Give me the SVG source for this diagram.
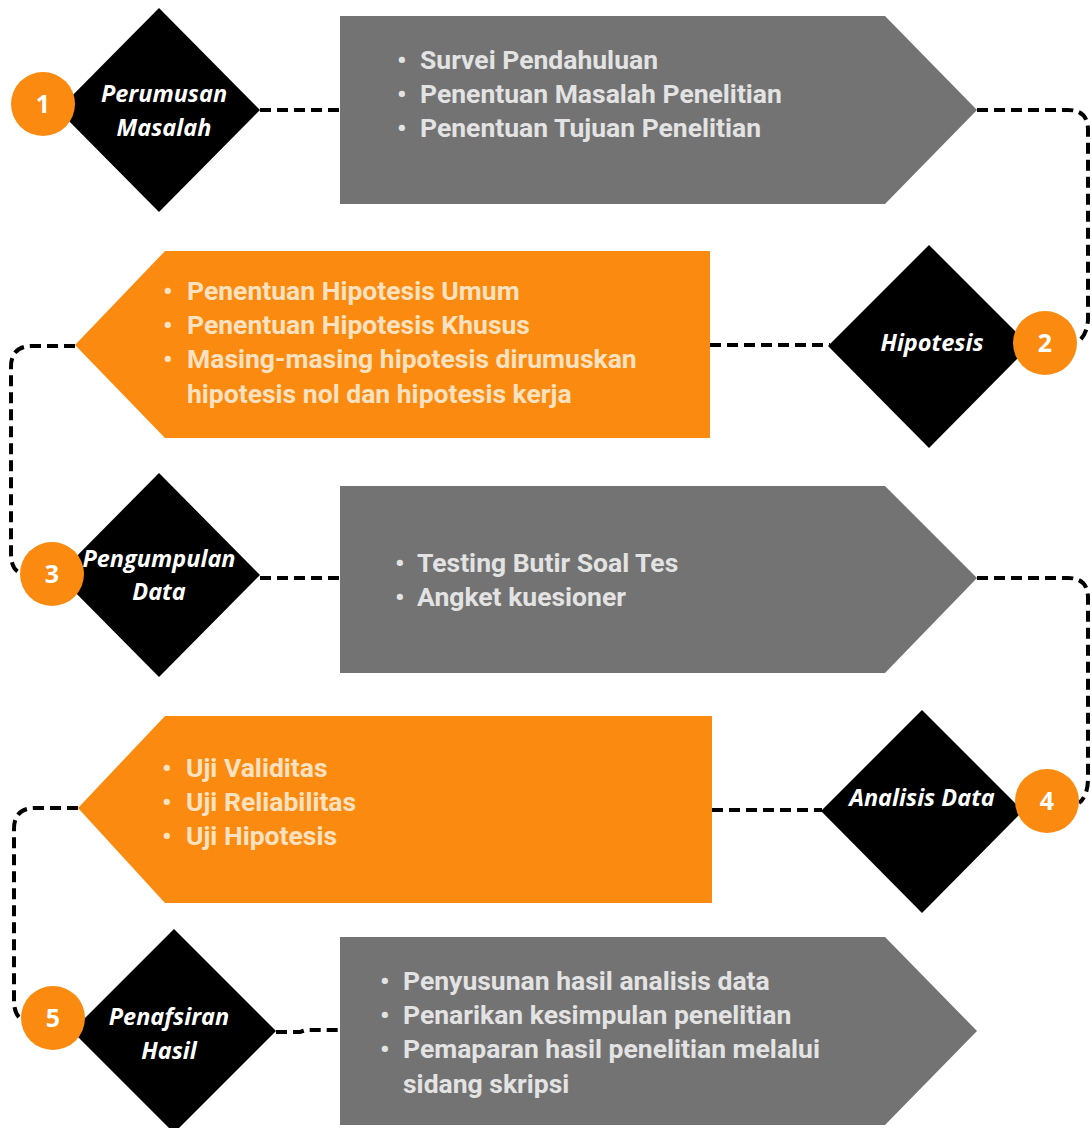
<svg xmlns="http://www.w3.org/2000/svg" width="1092" height="1128" viewBox="0 0 1092 1128">
<style>
.conn{fill:none;stroke:#000;stroke-width:4;stroke-dasharray:11 6}
.gray{fill:#737373}
.orange{fill:#fb8b10}
.dia{fill:#000}
.circ{fill:#fb8b10}
.num{font-family:"Open Sans","Liberation Sans",sans-serif;font-weight:700;font-size:25px;fill:#fff;text-anchor:middle}
.lbl{font-family:"Open Sans","Liberation Sans",sans-serif;font-weight:700;font-style:italic;font-size:23.5px;fill:#fff;text-anchor:middle}
.tg{font-family:Roboto,"Liberation Sans",sans-serif;font-weight:700;font-size:26.5px;fill:#e3e3e3}
.to{font-family:Roboto,"Liberation Sans",sans-serif;font-weight:700;font-size:26.5px;fill:#fde2c2}
</style>
<rect width="1092" height="1128" fill="#fff"/>
<g id="connectors">
<path class="conn" d="M260,110 H340"/>
<path class="conn" d="M977,110 H1068 Q1088,110 1088,130 V318 Q1088,334 1077,343"/>
<path class="conn" d="M710,345 H830"/>
<path class="conn" d="M75,346 H32 Q11,346 11,367 V553 Q11,570 21,573"/>
<path class="conn" d="M260,578 H340"/>
<path class="conn" d="M977,578 H1068 Q1088,578 1088,598 V778 Q1088,796 1079,803"/>
<path class="conn" d="M712,810 H822"/>
<path class="conn" d="M78,808 H35 Q14,808 14,829 V1000 Q14,1016 23,1020"/>
<path class="conn" d="M276,1032 H300 L306,1030 H340"/>
</g>
<g id="box1">
<polygon class="gray" points="340,16 885,16 977,110 885,204 340,204"/>
<text class="tg" x="397" y="69">•</text><text class="tg" x="420" y="69">Survei Pendahuluan</text>
<text class="tg" x="397" y="103">•</text><text class="tg" x="420" y="103">Penentuan Masalah Penelitian</text>
<text class="tg" x="397" y="137">•</text><text class="tg" x="420" y="137">Penentuan Tujuan Penelitian</text>
</g>
<g id="step1">
<polygon class="dia" points="159,8 260,110 159,212 58,110"/>
<text class="lbl" x="164" y="102">Perumusan</text>
<text class="lbl" x="164" y="136">Masalah</text>
<circle class="circ" cx="43" cy="104" r="32"/>
<text class="num" x="43" y="113">1</text>
</g>
<g id="box2">
<polygon class="orange" points="165,251 710,251 710,438 165,438 75,345"/>
<text class="to" x="163" y="300">•</text><text class="to" x="187" y="300">Penentuan Hipotesis Umum</text>
<text class="to" x="163" y="334">•</text><text class="to" x="187" y="334">Penentuan Hipotesis Khusus</text>
<text class="to" x="163" y="368">•</text><text class="to" x="187" y="368">Masing-masing hipotesis dirumuskan</text>
<text class="to" x="187" y="403">hipotesis nol dan hipotesis kerja</text>
</g>
<g id="step2">
<polygon class="dia" points="929,245 1030,346 929,448 828,346"/>
<text class="lbl" x="932" y="351">Hipotesis</text>
<circle class="circ" cx="1045" cy="343" r="32"/>
<text class="num" x="1045" y="352">2</text>
</g>
<g id="box3">
<polygon class="gray" points="340,486 885,486 977,578 885,673 340,673"/>
<text class="tg" x="395" y="572">•</text><text class="tg" x="417" y="572">Testing Butir Soal Tes</text>
<text class="tg" x="395" y="606">•</text><text class="tg" x="417" y="606">Angket kuesioner</text>
</g>
<g id="step3">
<polygon class="dia" points="159,473 260,575 159,677 58,575"/>
<text class="lbl" x="159" y="567">Pengumpulan</text>
<text class="lbl" x="159" y="600">Data</text>
<circle class="circ" cx="52" cy="574" r="32"/>
<text class="num" x="52" y="583">3</text>
</g>
<g id="box4">
<polygon class="orange" points="165,716 712,716 712,903 165,903 78,808"/>
<text class="to" x="162" y="777">•</text><text class="to" x="186" y="777">Uji Validitas</text>
<text class="to" x="162" y="811">•</text><text class="to" x="186" y="811">Uji Reliabilitas</text>
<text class="to" x="162" y="845">•</text><text class="to" x="186" y="845">Uji Hipotesis</text>
</g>
<g id="step4">
<polygon class="dia" points="922,710 1023,811 922,913 821,811"/>
<text class="lbl" x="922" y="806">Analisis Data</text>
<circle class="circ" cx="1047" cy="801" r="32"/>
<text class="num" x="1047" y="810">4</text>
</g>
<g id="box5">
<polygon class="gray" points="340,937 885,937 977,1031 885,1125 340,1125"/>
<text class="tg" x="380" y="990">•</text><text class="tg" x="403" y="990">Penyusunan hasil analisis data</text>
<text class="tg" x="380" y="1024">•</text><text class="tg" x="403" y="1024">Penarikan kesimpulan penelitian</text>
<text class="tg" x="380" y="1058">•</text><text class="tg" x="403" y="1058">Pemaparan hasil penelitian melalui</text>
<text class="tg" x="403" y="1093">sidang skripsi</text>
</g>
<g id="step5">
<polygon class="dia" points="174,929 276,1031 174,1133 72,1031"/>
<text class="lbl" x="169" y="1025">Penafsiran</text>
<text class="lbl" x="169" y="1059">Hasil</text>
<circle class="circ" cx="53" cy="1018" r="32"/>
<text class="num" x="53" y="1027">5</text>
</g>
</svg>
